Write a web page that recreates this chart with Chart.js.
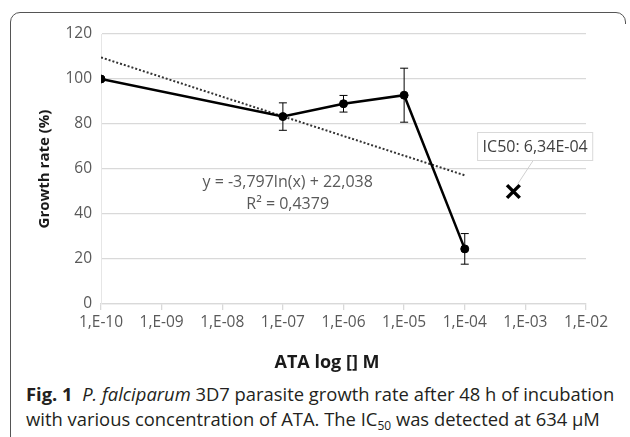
<!DOCTYPE html>
<html>
<head>
<meta charset="utf-8">
<script src="https://cdn.jsdelivr.net/npm/chart.js@4"></script>
<style>
  html, body { margin: 0; padding: 0; background: #fff; }
  #wrap { position: relative; width: 630px; height: 437px; overflow: hidden; }
  #frame {
    position: absolute; left: 10px; top: 12px; width: 616px; height: 440px;
    border: 1.5px solid #555; border-radius: 10px 10px 0 0; box-sizing: border-box;
  }
  #mask { position: absolute; left: 620px; top: 24px; width: 10px; height: 420px; background: #fff; }
  #chart { position: absolute; left: 0; top: 0; }
  #caption {
    position: absolute; left: 26px; top: 381px; width: 604px; white-space: nowrap;
    font-family: "Open Sans", sans-serif; font-size: 18.4px; line-height: 25px; color: #231f20;
  }
  #caption b { font-weight: 700; }
</style>
</head>
<body>
<div id="wrap">
  <div id="frame"></div>
  <div id="mask"></div>
  <canvas id="chart" width="630" height="375"></canvas>
  <div id="caption"><b>Fig. 1</b>&nbsp; <i>P. falciparum</i> 3D7 parasite growth rate after 48 h of incubation<br>with various concentration of ATA. The IC<sub style="font-size:12px;vertical-align:-4px;line-height:0;">50</sub> was detected at 634 μM</div>
</div>
<script>
// concentrations (M) et taux de croissance (%)
const concentrations = [1e-10, 1e-7, 1e-6, 1e-5, 1e-4];
const growthRate = [100, 83.3, 89, 92.8, 24.5];
const errors = [0, 6.1, 3.7, 12, 6.8];

// courbe de tendance logarithmique (extrémités)
const trendX = [1e-10, 1e-4];
const trendY = [109.6, 57.2];

// point IC50
const ic50X = [6.34e-4];
const ic50Y = [50];

const tickValues = [1e-10, 1e-9, 1e-8, 1e-7, 1e-6, 1e-5, 1e-4, 1e-3, 1e-2];
const tickLabels = ['1,E-10', '1,E-09', '1,E-08', '1,E-07', '1,E-06', '1,E-05', '1,E-04', '1,E-03', '1,E-02'];

const equationLines = ['y = -3,797ln(x) + 22,038', 'R² = 0,4379'];
const ic50Label = 'IC50: 6,34E-04';

const FONT = '"Open Sans", sans-serif';

// barres d'erreur + annotations
const extras = {
    id: 'extras',
    afterDatasetsDraw(chart) {
        const ctx = chart.ctx;
        const xs = chart.scales.x, ys = chart.scales.y;
        ctx.save();
        // barres d'erreur
        ctx.strokeStyle = '#000';
        ctx.lineWidth = 1;
        concentrations.forEach((c, i) => {
            if (!errors[i]) return;
            const px = xs.getPixelForValue(c);
            const top = ys.getPixelForValue(growthRate[i] + errors[i]);
            const bot = ys.getPixelForValue(growthRate[i] - errors[i]);
            ctx.beginPath();
            ctx.moveTo(px, top); ctx.lineTo(px, bot);
            ctx.moveTo(px - 4, top); ctx.lineTo(px + 4, top);
            ctx.moveTo(px - 4, bot); ctx.lineTo(px + 4, bot);
            ctx.stroke();
        });

        // équation de la tendance
        ctx.fillStyle = '#595959';
        ctx.font = '16px ' + FONT;
        ctx.textAlign = 'center';
        ctx.textBaseline = 'middle';
        const ex = xs.getPixelForValue(1.2e-7);
        const ey = ys.getPixelForValue(54);
        ctx.fillText(equationLines[0], ex, ey);
        ctx.fillText(equationLines[1], ex, ey + 22);

        // étiquette IC50
        ctx.font = '16px ' + FONT;
        const lx = xs.getPixelForValue(1.45e-3);
        const ly = ys.getPixelForValue(70);
        const w = ctx.measureText(ic50Label).width + 10;
        const h = 28;
        const mx = xs.getPixelForValue(ic50X[0]);
        const my = ys.getPixelForValue(ic50Y[0]);
        ctx.strokeStyle = '#d0d0d0';
        ctx.lineWidth = 1;
        ctx.beginPath();
        ctx.moveTo(lx - 2, ly + h / 2);
        ctx.lineTo(mx + 4, my - 7);
        ctx.stroke();
        ctx.fillStyle = '#fff';
        ctx.fillRect(lx - w / 2, ly - h / 2, w, h);
        ctx.strokeStyle = '#d9d9d9';
        ctx.strokeRect(lx - w / 2, ly - h / 2, w, h);
        ctx.fillStyle = '#404040';
        ctx.fillText(ic50Label, lx, ly + 1);

        // titre de l'axe X
        ctx.fillStyle = '#1a1a1a';
        ctx.font = 'bold 18px ' + FONT;
        ctx.fillText('ATA log [] M', 327, 363);
        ctx.restore();
    }
};

new Chart(document.getElementById('chart'), {
    type: 'scatter',
    data: {
        datasets: [
            {
                label: 'Growth rate',
                data: concentrations.map((c, i) => ({ x: c, y: growthRate[i] })),
                showLine: true,
                borderColor: '#000',
                backgroundColor: '#000',
                borderWidth: 2.5,
                pointRadius: 4,
                pointBorderWidth: 1,
                pointHoverRadius: 4,
                order: 1
            },
            {
                label: 'Tendance',
                data: trendX.map((c, i) => ({ x: c, y: trendY[i] })),
                showLine: true,
                borderColor: '#333',
                borderWidth: 2,
                borderDash: [2, 2],
                pointRadius: 0,
                order: 2
            },
            {
                label: 'IC50',
                data: ic50X.map((c, i) => ({ x: c, y: ic50Y[i] })),
                pointStyle: 'crossRot',
                pointRadius: 9,
                pointHoverRadius: 9,
                borderColor: '#000',
                borderWidth: 3.5,
                order: 0
            }
        ]
    },
    options: {
        responsive: false,
        animation: false,
        layout: { padding: { left: 36, right: 44, top: 34, bottom: 0 } },
        plugins: { legend: { display: false }, tooltip: { enabled: false } },
        scales: {
            x: {
                type: 'logarithmic',
                min: 1e-10,
                max: 1e-2,
                afterBuildTicks: (s) => { s.ticks = tickValues.map(v => ({ value: v })); },
                afterFit: (s) => { s.height = 71; },
                ticks: {
                    autoSkip: false,
                    maxRotation: 0,
                    padding: 3,
                    color: '#595959',
                    font: { family: FONT, size: 15.5 },
                    callback: (v, i) => tickLabels[i]
                },
                grid: { drawOnChartArea: false, drawTicks: true, tickLength: 6, color: '#d9d9d9', lineWidth: 1.3 },
                border: { color: '#d9d9d9', width: 1.3 }
            },
            y: {
                min: 0,
                max: 120,
                afterFit: (s) => { s.width = 65; },
                ticks: {
                    stepSize: 20,
                    padding: 9,
                    color: '#595959',
                    font: { family: FONT, size: 15.5 }
                },
                grid: { color: '#d9d9d9', lineWidth: 1.3, drawTicks: false },
                border: { color: '#e6e6e6', width: 1 },
                title: {
                    display: true,
                    text: 'Growth rate (%)',
                    color: '#1a1a1a',
                    font: { family: FONT, size: 15, weight: 'bold' },
                    padding: { top: 0, bottom: 0 }
                }
            }
        }
    },
    plugins: [extras]
});
</script>
</body>
</html>
